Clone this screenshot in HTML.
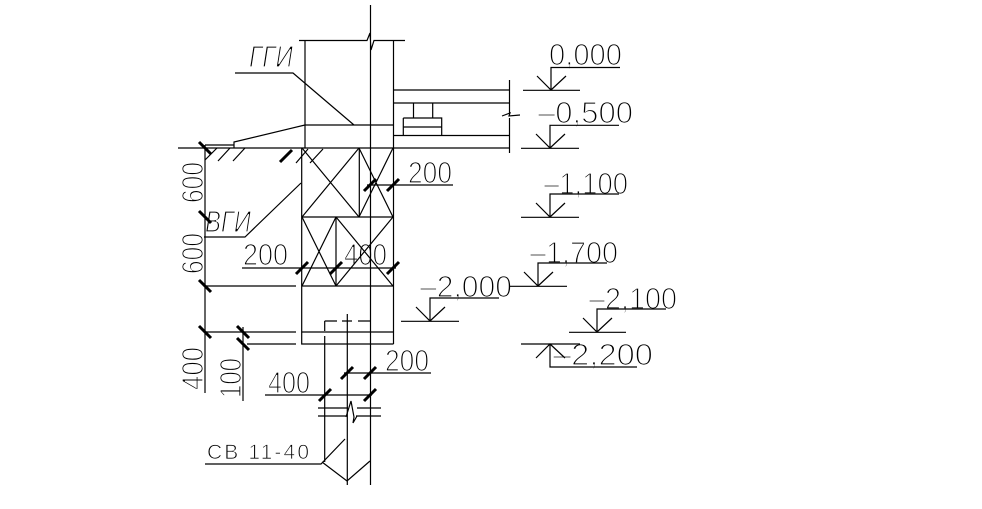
<!DOCTYPE html>
<html><head><meta charset="utf-8"><style>
html,body{margin:0;padding:0;background:#fff}
svg{display:block}
text{font-family:"Liberation Sans","Noto Sans CJK SC",sans-serif;fill:#000;font-size:31px;stroke:#fff;stroke-width:1.35px;paint-order:fill stroke}
.s{font-size:21px;stroke-width:.8px}
</style></head><body>
<svg width="982" height="509" viewBox="0 0 982 509" xmlns="http://www.w3.org/2000/svg">
<!-- labels -->
<text x="549" y="65" textLength="73" lengthAdjust="spacingAndGlyphs">0,000</text>
<text x="538" y="123" textLength="95" lengthAdjust="spacingAndGlyphs">–0,500</text>
<text x="544" y="194" textLength="84" lengthAdjust="spacingAndGlyphs">–1,100</text>
<text x="530" y="263" textLength="88" lengthAdjust="spacingAndGlyphs">–1,700</text>
<text x="420" y="297" textLength="92" lengthAdjust="spacingAndGlyphs">–2,000</text>
<text x="589" y="309" textLength="88" lengthAdjust="spacingAndGlyphs">–2,100</text>
<text x="553" y="365" textLength="100" lengthAdjust="spacingAndGlyphs">–2,200</text>
<text x="408" y="183" textLength="44" lengthAdjust="spacingAndGlyphs">200</text>
<text x="243" y="265" textLength="45" lengthAdjust="spacingAndGlyphs">200</text>
<text x="344" y="265" textLength="43" lengthAdjust="spacingAndGlyphs">400</text>
<text x="385" y="371" textLength="44" lengthAdjust="spacingAndGlyphs">200</text>
<text x="268" y="393" textLength="42" lengthAdjust="spacingAndGlyphs">400</text>
<text class="s" x="207" y="459" textLength="102" lengthAdjust="spacing">CB 11-40</text>
<text x="249" y="67" textLength="44" lengthAdjust="spacingAndGlyphs" font-style="italic">ГГИ</text>
<text x="205" y="232" textLength="46" lengthAdjust="spacingAndGlyphs" font-style="italic">ВГИ</text>
<text transform="translate(203 203) rotate(-90)" textLength="41" lengthAdjust="spacingAndGlyphs">600</text>
<text transform="translate(203 274) rotate(-90)" textLength="41" lengthAdjust="spacingAndGlyphs">600</text>
<text transform="translate(203 390) rotate(-90)" textLength="43" lengthAdjust="spacingAndGlyphs">400</text>
<text transform="translate(241 398) rotate(-90)" textLength="40" lengthAdjust="spacingAndGlyphs">100</text>
<g fill="none" stroke="#000" stroke-width="1.2">
<!-- wall -->
<path d="M370.5 5V485M299 40.5H367L370 33 371 50 374 40.5H405M305 40.5V148M393.5 40.5V344"/>
<path d="M235 73H293L354 125M305 125H393.5M305 125L234 142V148M205 145H234M178 148H510"/>
<path d="M393.5 90H509.5M393.5 103H509.5M393.5 135.5H509.5M509.5 80V113M509.5 118V153M502 116L510 113 509 116 520 115"/>
<path d="M413.5 103V118M432.7 103V118M403.3 118H441.7V135.5M403.3 118V135.5M403.3 127H441.7"/>
<!-- hatch -->
<path d="M205 160L217 148M218 161L230 148M233 161L245 148M296 163L308 149M310 163L323 149"/>
<!-- foundation -->
<path d="M301.7 148V344H393.5M301.7 217H393.5M301.7 286H393.5M359.3 148V217M336 217V286"/>
<path d="M302 148L359 217M302 217L359 148M359 148L393 217M393 148L359 217M302 217L336 286M336 217L302 286M336 217L393 286M393 217L336 286"/>
<!-- dims left -->
<path d="M205 145V393M243 327V401M205 286H296M205 332H296M302 332H393.5M247 344H296M204 237H245L301 183M242 268H396M367 185H453"/>
<!-- lower column -->
<path d="M324.7 321H337M342 321H352M358 321H370M324.7 321V331M324.7 336V462M347.3 314V485M344 373H431M265 395H372"/>
<path d="M318 408H348M357 408H381M318 416H346M356 416H381M346 417L351 401 354 417 353 423 357 416"/>
<path d="M205 464H321L345 439M322 462L347 481 370 461"/>
<!-- levels -->
<path d="M620 67.5H551V90M523 90.3H580M537 76L551 90 566 76"/>
<path d="M619 125.3H550V148M521 148.3H579M536 134L550 148 565 134"/>
<path d="M619 194H550V217M521 217.3H579M536 203L550 217 565 203"/>
<path d="M607 263H538V286M510 286.3H567M524 272L538 286 553 272"/>
<path d="M499 298H430V321M401 321.3H459M416 307L430 321 445 307"/>
<path d="M666 309H597V332M569 332.3H626M583 318L597 332 612 318"/>
<path d="M521 344H580M550 344V367H637M536 358L550 344 565 358"/>
</g>
<!-- ticks -->
<g stroke="#000" stroke-width="3" fill="none">
<path d="M199 142L211 154M199 211L211 223M199 280L211 292M199 326L211 338M237 326L249 338M237 338L249 350"/>
<path d="M296 274L308 262M330 274L342 262M387 274L399 262M364 191L376 179M387 191L399 179M341 379L353 367M364 379L376 367M319 401L331 389M364 401L376 389M280 162L292 150"/>
</g>
</svg>
</body></html>
